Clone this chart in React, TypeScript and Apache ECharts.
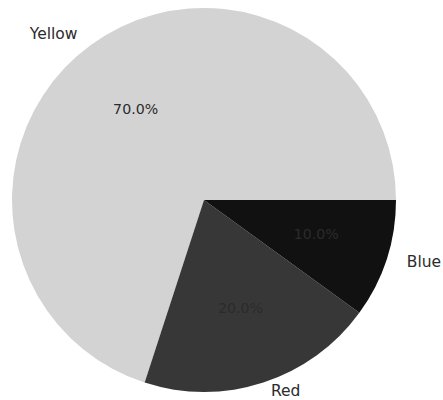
import React, { useEffect, useRef } from "react";
import * as echarts from "echarts";

const categories = ["Yellow", "Red", "Blue"];
const values = [70, 20, 10];
const colors = ["#d3d3d3", "#373737", "#111111"];
// label placement tweaks (styling only)
const outerLen = [13, 8.5, 8.6];
const outerLen2 = [1, 0, 7];
const pctOffset = [
  [1, 4],
  [0, -4],
  [0, -2],
];

export default function App() {
  const ref = useRef<HTMLDivElement>(null);
  useEffect(() => {
    document.body.style.margin = "0";
    const chart = echarts.init(ref.current!, null, { renderer: "svg" });
    const data = categories.map((name, i) => ({
      name,
      value: values[i],
      itemStyle: { color: colors[i] },
      labelLine: { show: false, length: outerLen[i], length2: outerLen2[i] },
    }));
    const total = values.reduce((a, b) => a + b, 0);
    chart.setOption({
      animation: false,
      backgroundColor: "#ffffff",
      series: [
        {
          type: "pie",
          center: [204, 200],
          radius: 192,
          startAngle: 0,
          clockwise: false,
          silent: true,
          avoidLabelOverlap: false,
          data,
          label: {
            show: true,
            position: "outside",
            color: "#2b2b2b",
            fontFamily: "DejaVu Sans",
            fontSize: 15.5,
            formatter: "{b}",
            distanceToLabelLine: 5,
          },
          labelLine: { show: false },
          emphasis: { disabled: true },
        },
        {
          type: "pie",
          center: [204, 200],
          radius: [0, 230],
          startAngle: 0,
          clockwise: false,
          silent: true,
          avoidLabelOverlap: false,
          data: categories.map((name, i) => ({
            name,
            value: values[i],
            itemStyle: { color: "rgba(0,0,0,0)" },
            label: { offset: pctOffset[i] },
          })),
          label: {
            show: true,
            position: "inside",
            color: "#2b2b2b",
            fontFamily: "DejaVu Sans",
            fontSize: 14.2,
            formatter: (p: any) => ((p.value / total) * 100).toFixed(1) + "%",
          },
          labelLine: { show: false },
          emphasis: { disabled: true },
        },
      ],
    });
    return () => chart.dispose();
  }, []);
  return (
    <div
      ref={ref}
      style={{ position: "absolute", left: 0, top: 0, width: 443, height: 400 }}
    />
  );
}
